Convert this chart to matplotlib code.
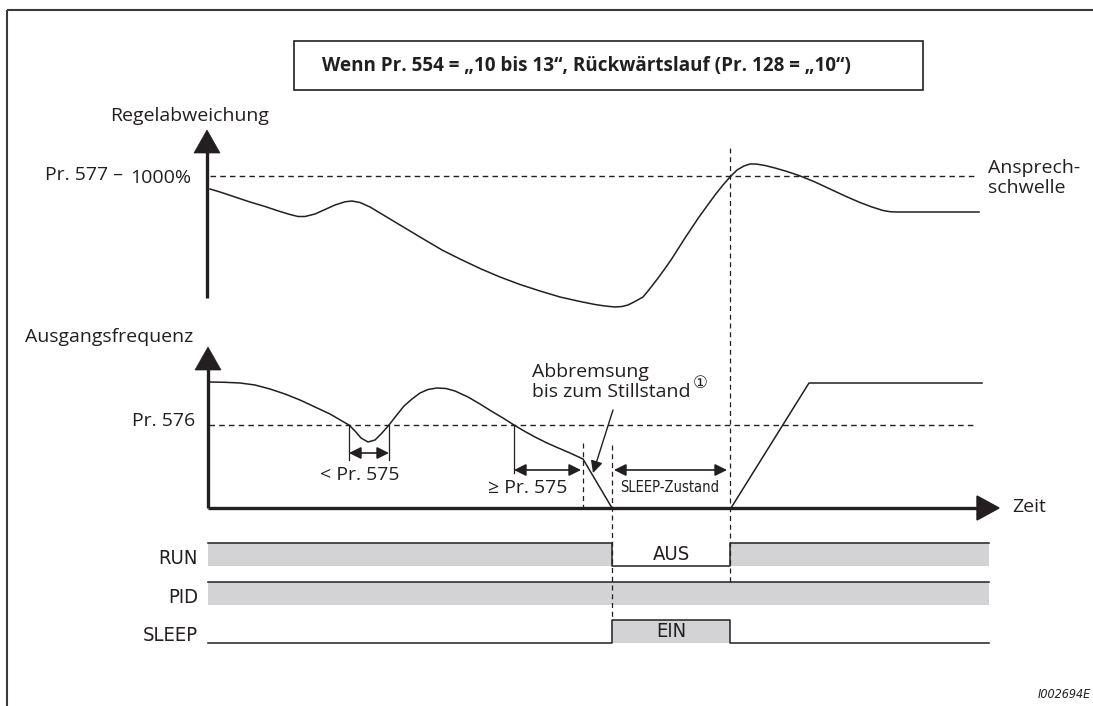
import matplotlib
matplotlib.use("Agg")
import matplotlib.pyplot as plt
from matplotlib.patches import Rectangle, Polygon, FancyArrowPatch
from matplotlib.font_manager import FontProperties

plt.rcParams['font.family'] = ['Open Sans', 'DejaVu Sans']

# ---- values (pixel coordinates, y downwards) ----
# upper panel: control deviation
dev_x = [210, 220, 235, 250, 265, 280, 290, 298, 305, 315, 325, 335, 345, 352,
         360, 370, 385, 400, 420, 442, 460, 480, 500, 520, 540, 560, 580, 595,
         605, 615, 622, 628, 634, 643, 648, 657, 665, 671, 685, 699, 715, 723,
         730, 737, 744, 750, 756, 765, 775, 787, 799, 815, 830, 845, 860, 872,
         883, 890, 896, 979]
dev_y = [189, 192, 197, 202, 206.5, 211.5, 214.5, 216.5, 216.5, 214, 209.5, 205,
         201.8, 201, 202.5, 207, 216, 225, 237, 250, 259, 268.5, 277, 284.5, 291,
         297, 301.5, 304.5, 306, 307, 306.5, 305, 302, 297, 291, 279.5, 268.5,
         260, 238, 217, 195, 185, 177, 170, 166, 164, 164, 165.5, 168, 171.5,
         175.5, 182, 189, 196, 202.5, 207, 210.5, 211.7, 212, 212]

# lower panel: output frequency
freq_x = [209, 225, 240, 255, 270, 285, 300, 315, 330, 342, 349, 355, 361, 368,
          375, 382, 389, 396, 404, 412, 420, 428, 437, 446, 455, 468, 480, 492,
          503, 514, 525, 535, 546, 556, 570, 583, 612, 731, 809, 982]
freq_y = [382, 382.3, 383, 385, 389, 394, 400, 407, 414, 421, 425, 431, 438, 442,
          440, 433, 425, 416, 406, 399, 393, 389.5, 388, 388.5, 391, 397, 404,
          411.5, 418, 425, 431.5, 437, 442.5, 447, 453, 459, 508, 508, 383, 383]

# timing signals: level before sleep, during sleep, after sleep
sig_names = ['RUN', 'PID', 'SLEEP']
sig_before = [1, 1, 0]
sig_sleep = [0, 1, 1]
sig_after = [1, 1, 0]
sig_text = ['AUS', '', 'EIN']
sig_top = [543, 582, 620]
sig_h = 23

t_start, t_sleep, t_wake, t_end = 208, 612, 730, 989
thr_dev_y = 176      # Pr. 577 - 1000 %
thr_freq_y = 425     # Pr. 576

ink = '#231f20'
grey = '#d3d3d5'
fs = 14
cond = FontProperties(family='DejaVu Sans', stretch='condensed', size=14.5)

fig = plt.figure(figsize=(10.93, 7.06), dpi=100)
ax = fig.add_axes([0, 0, 1, 1])
ax.set_xlim(0, 1093)
ax.set_ylim(706, 0)
ax.axis('off')

# outer frame
ax.add_patch(Rectangle((7, 10), 1100, 720, fill=False, ec='#3a3a3a', lw=1.5))

# title box
ax.add_patch(Rectangle((294, 41), 629, 49, fill=False, ec=ink, lw=1.2))
ax.text(322, 71, 'Wenn Pr. 554 = \u201e10 bis 13\u201c, R\u00fcckw\u00e4rtslauf (Pr. 128 = \u201e10\u201c)',
        fontsize=13.6, fontweight='bold', va='baseline', ha='left', color=ink)


def up_arrow(x, y_bottom, y_tip):
    ax.plot([x, x], [y_bottom, y_tip + 20], color=ink, lw=2.4, solid_capstyle='butt')
    ax.add_patch(Polygon([[x - 13, y_tip + 23], [x + 13, y_tip + 23], [x, y_tip]],
                         closed=True, fc=ink, ec=ink, lw=0.5))


def label(x, y, s, ha='left', **kw):
    kw.setdefault('fontsize', fs)
    ax.text(x, y, s, va='baseline', ha=ha, color=ink, **kw)


# ---- upper panel ----
up_arrow(207, 298, 130)
label(110, 121, 'Regelabweichung')
label(45, 180, 'Pr. 577 \u2013')
label(130, 183, '1000%')
ax.plot([210, 974], [thr_dev_y, thr_dev_y], color=ink, lw=1, ls=(0, (4, 3)))
label(988, 173, 'Ansprech-')
label(988, 193, 'schwelle')
ax.plot(dev_x, dev_y, color=ink, lw=1.1)

# ---- lower panel ----
up_arrow(208, 508, 347)
ax.plot([208, 980], [508, 508], color=ink, lw=2.4, solid_capstyle='butt')
ax.add_patch(Polygon([[977, 496], [977, 520], [999, 508]], closed=True, fc=ink, ec=ink))
label(1012, 512, 'Zeit')
label(25, 342, 'Ausgangsfrequenz')
label(132, 426, 'Pr. 576')
ax.plot([209, 975], [thr_freq_y, thr_freq_y], color=ink, lw=1, ls=(0, (4, 3)))
ax.plot(freq_x, freq_y, color=ink, lw=1.1)

# dimension markers
for x, y1 in [(349, 460), (389, 460), (514, 473)]:
    ax.plot([x, x], [thr_freq_y, y1], color=ink, lw=0.9)


def dim_arrow(x1, x2, y):
    ax.add_patch(FancyArrowPatch((x1, y), (x2, y), arrowstyle='<|-|>',
                                 mutation_scale=18, color=ink, lw=1.2,
                                 shrinkA=0, shrinkB=0))


dim_arrow(349, 389, 453)
label(360, 480, '< Pr. 575', ha='center')
dim_arrow(514, 581, 470)
label(528, 493, '\u2265 Pr. 575', ha='center')
dim_arrow(614, 727, 470)
ax.text(670, 492, 'SLEEP-Zustand', va='baseline', ha='center', color=ink,
        fontproperties=FontProperties(family='DejaVu Sans', stretch='condensed', size=10.5))

# dashed guide lines
ax.plot([583, 583], [443, 508], color=ink, lw=0.9, ls=(0, (4, 3)))
ax.plot([612, 612], [445, 620], color=ink, lw=0.9, ls=(0, (4, 3)))
ax.plot([730, 730], [148, 585], color=ink, lw=0.9, ls=(0, (4, 3)))

# deceleration note
label(532, 377, 'Abbremsung')
label(532, 397, 'bis zum Stillstand')
ax.text(700, 383, '\u2460', fontsize=12, va='center', ha='center', color=ink,
        family=['DejaVu Sans'])
ax.add_patch(FancyArrowPatch((613, 410), (593, 473), arrowstyle='-|>',
                             mutation_scale=18, color=ink, lw=1.0,
                             shrinkA=0, shrinkB=0))

# ---- timing signals ----
for name, b, s, a, txt, top in zip(sig_names, sig_before, sig_sleep, sig_after,
                                   sig_text, sig_top):
    bot = top + sig_h
    segs = [(t_start, t_sleep, b), (t_sleep, t_wake, s), (t_wake, t_end, a)]
    xs, ys = [], []
    for x0, x1, lvl in segs:
        if lvl:
            ax.add_patch(Rectangle((x0, top), x1 - x0, sig_h, fc=grey, ec='none'))
        y = top if lvl else bot
        xs += [x0, x1]
        ys += [y, y]
    ax.plot(xs, ys, color=ink, lw=1.1)
    ax.text(198, top + 21, name, va='baseline', ha='right', color=ink,
            fontproperties=cond)
    if txt:
        ax.text((t_sleep + t_wake) / 2, top + 17, txt, va='baseline', ha='center',
                color=ink, fontproperties=cond)

ax.text(1091, 698, 'I002694E', va='baseline', ha='right', color=ink,
        fontproperties=FontProperties(family='DejaVu Sans', stretch='condensed',
                                      style='italic', size=9))

fig.savefig('out.png', dpi=100)
